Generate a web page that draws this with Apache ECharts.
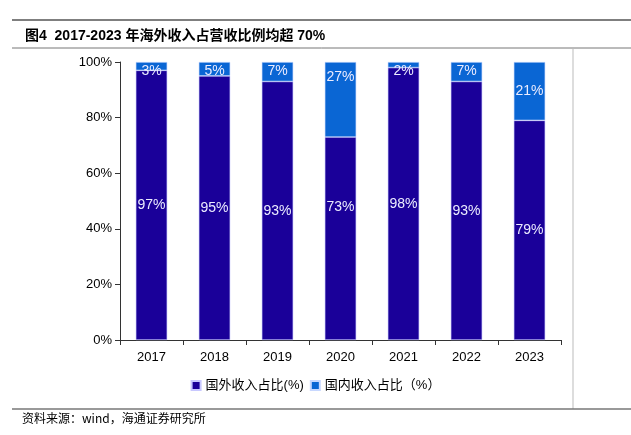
<!DOCTYPE html>
<html><head><meta charset="utf-8">
<script src="https://cdn.jsdelivr.net/npm/echarts@6/dist/echarts.min.js"></script>
<style>html,body{margin:0;padding:0;background:#fff}#c{width:631px;height:435px}</style>
</head><body><div id="c"></div>
<script>
const categories = ['2017','2018','2019','2020','2021','2022','2023'];
const overseas = [97, 95, 93, 73, 98, 93, 79];
const domestic = [3, 5, 7, 27, 2, 7, 21];
const yTicks = [0, 20, 40, 60, 80, 100];

const chart = echarts.init(document.getElementById('c'));
const font = 'Arial, "Liberation Sans", "Noto Sans CJK SC"';
const labelColor = '#ececff';

const overseasData = overseas.map((v, i) => {
  const d = { value: v };
  if (categories[i] === '2020') d.label = { offset: [0, -31] };
  return d;
});
const domesticData = domestic.map((v, i) => {
  const d = { value: v };
  if (categories[i] === '2020') d.label = { distance: 8 };
  if (categories[i] === '2023') d.label = { position: 'inside' };
  return d;
});

chart.setOption({
  animation: false,
  title: {
    text: '图4  2017-2023 年海外收入占营收比例均超 70%',
    left: 20, top: 24,
    textStyle: { fontSize: 14, fontWeight: 'bold', color: '#000', fontFamily: font }
  },
  graphic: [
    { type: 'line', shape: { x1: 12, y1: 20, x2: 631, y2: 20 }, style: { stroke: '#555', lineWidth: 1.5 } },
    { type: 'line', shape: { x1: 12, y1: 48, x2: 631, y2: 48 }, style: { stroke: '#777', lineWidth: 1 } },
    { type: 'line', shape: { x1: 573, y1: 48, x2: 573, y2: 409 }, style: { stroke: '#bbb', lineWidth: 1 } },
    { type: 'line', shape: { x1: 12, y1: 409, x2: 631, y2: 409 }, style: { stroke: '#777', lineWidth: 1.5 } },
    { type: 'text', left: 22, top: 412, style: { text: '资料来源：wind，海通证券研究所', fontSize: 12, fill: '#000', fontFamily: '"Noto Sans CJK SC"' } }
  ],
  legend: {
    bottom: 38, left: 'center', itemWidth: 9, itemHeight: 9, itemGap: 6,
    icon: 'rect',
    textStyle: { fontSize: 13, color: '#000', fontFamily: font },
    data: ['国外收入占比(%)', '国内收入占比（%）']
  },
  grid: { left: 120, right: 70, top: 62, bottom: 95 },
  xAxis: {
    type: 'category', data: categories,
    axisLine: { lineStyle: { color: '#333' } },
    axisTick: { show: true, alignWithLabel: false, length: 5, lineStyle: { color: '#333' } },
    axisLabel: { fontSize: 13, color: '#000', margin: 11, fontFamily: font }
  },
  yAxis: {
    type: 'value', min: 0, max: 100, interval: 20,
    axisLine: { show: true, lineStyle: { color: '#333' } },
    axisTick: { show: true, length: 5, lineStyle: { color: '#333' } },
    splitLine: { show: false },
    axisLabel: { fontSize: 13, color: '#000', margin: 8, fontFamily: font,
      formatter: v => yTicks.includes(v) ? v + '%' : '' }
  },
  series: [
    {
      name: '国外收入占比(%)', type: 'bar', stack: 's', barWidth: '50%',
      data: overseasData,
      itemStyle: { color: '#1a0099', borderColor: '#c8c8ff', borderWidth: 0.6 },
      label: { show: true, position: 'inside', color: labelColor, fontSize: 14, fontFamily: font, formatter: '{c}%' }
    },
    {
      name: '国内收入占比（%）', type: 'bar', stack: 's', barWidth: '50%',
      data: domesticData,
      itemStyle: { color: '#0a66d4', borderColor: '#c8d8ff', borderWidth: 0.6 },
      label: { show: true, position: 'insideTop', distance: 2, color: labelColor, fontSize: 14, fontFamily: font, formatter: '{c}%' }
    }
  ]
});
</script></body></html>
